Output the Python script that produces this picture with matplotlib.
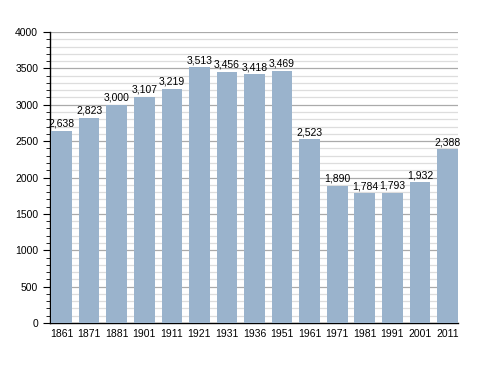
import matplotlib
matplotlib.use("Agg")
import matplotlib.pyplot as plt
from matplotlib.ticker import MultipleLocator

years = ["1861", "1871", "1881", "1901", "1911", "1921", "1931", "1936",
         "1951", "1961", "1971", "1981", "1991", "2001", "2011"]
population = [2638, 2823, 3000, 3107, 3219, 3513, 3456, 3418,
              3469, 2523, 1890, 1784, 1793, 1932, 2388]

plt.rcParams['font.family'] = ['Liberation Sans', 'DejaVu Sans']

fig = plt.figure(figsize=(4.88, 3.73), dpi=100)
ax = fig.add_axes([50/488, 50/373, 408/488, 291/373])

x = list(range(len(years)))
ax.bar(x, population, width=0.75, color='#9ab3cc', zorder=3)
for xi, v in zip(x, population):
    ax.text(xi, v + 30, f"{v:,}", ha='center', va='bottom', fontsize=7.5, zorder=4)

ax.set_xlim(-0.42, 14.38)
ax.set_ylim(0, 4000)
ax.yaxis.set_major_locator(MultipleLocator(500))
ax.yaxis.set_minor_locator(MultipleLocator(100))
ax.grid(axis='y', which='major', color='#aaaaaa', linewidth=0.9, zorder=1)
ax.grid(axis='y', which='minor', color='#dddddd', linewidth=0.9, zorder=0)
ax.set_xticks(x)
ax.set_xticklabels(years)
ax.tick_params(axis='x', length=0, labelsize=7.5, pad=4)
ax.tick_params(axis='y', which='major', length=5, labelsize=7.5, direction='out')
ax.tick_params(axis='y', which='minor', length=3, direction='out')
for s in ['top', 'right']:
    ax.spines[s].set_visible(False)
ax.spines['left'].set_linewidth(1)
ax.spines['bottom'].set_linewidth(1)

fig.savefig("out.png", dpi=100)
